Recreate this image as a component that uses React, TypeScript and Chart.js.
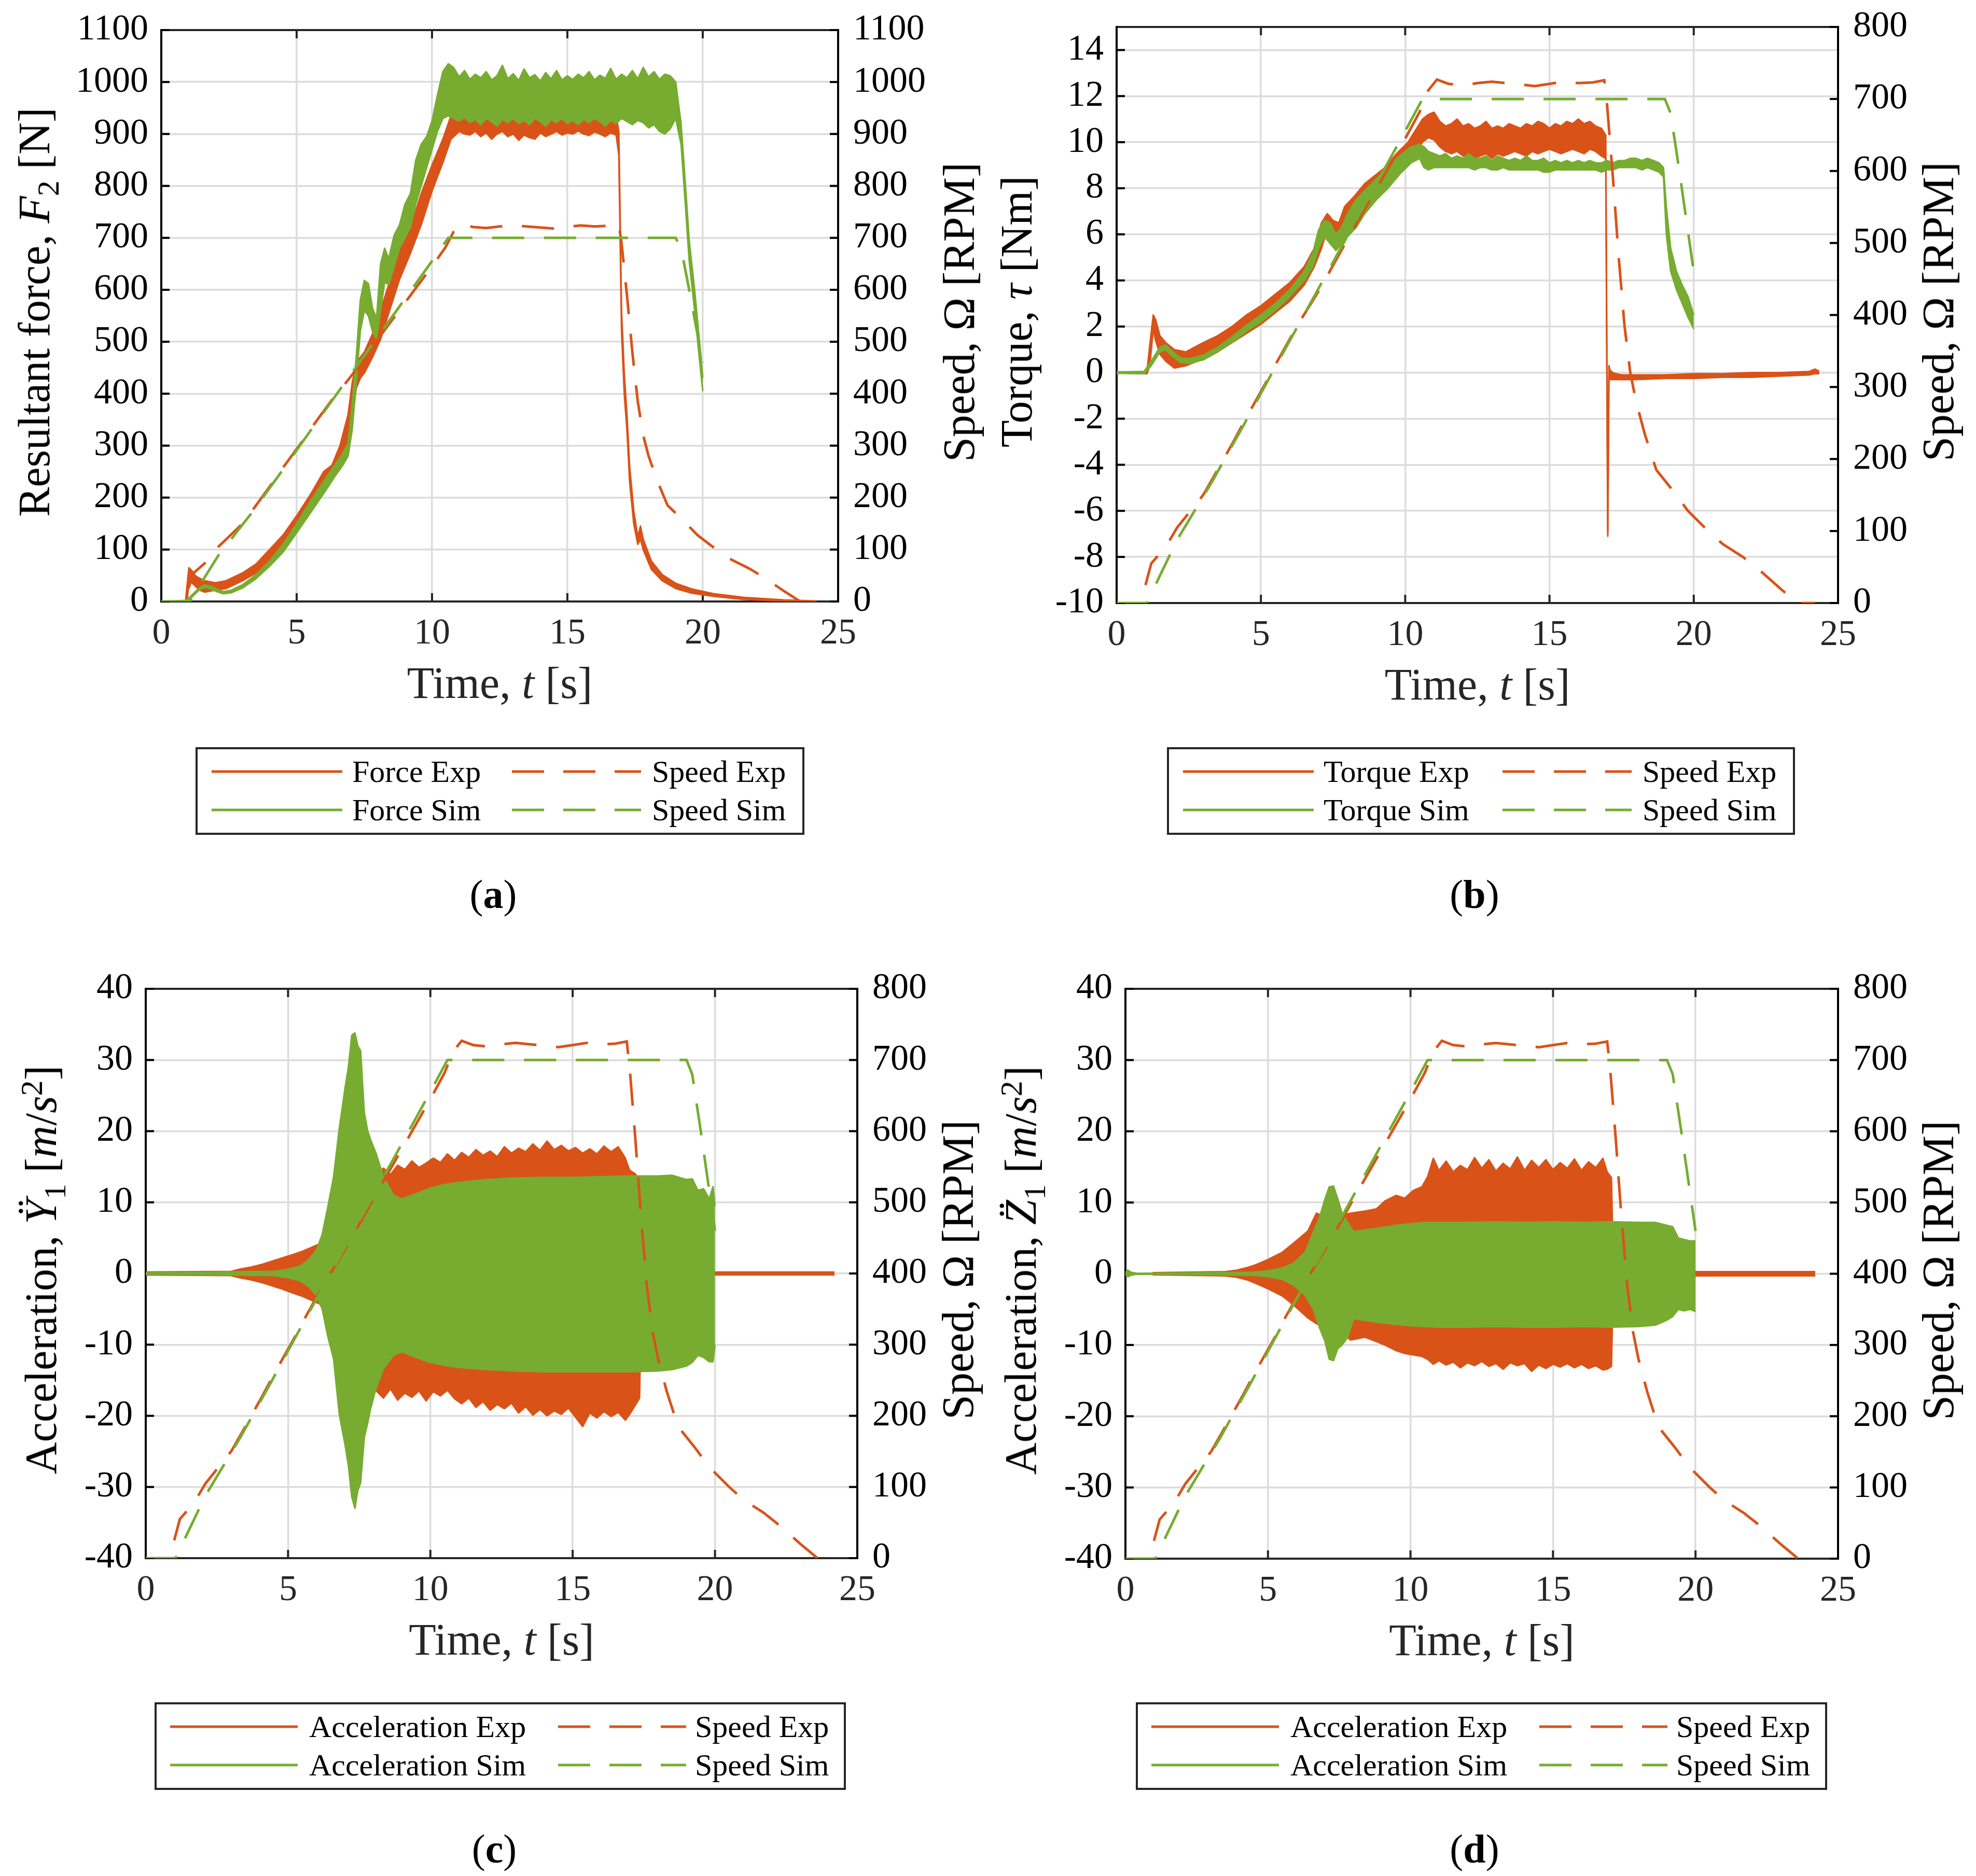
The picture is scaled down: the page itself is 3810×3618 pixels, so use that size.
import React, { useEffect, useRef } from 'react';
import { Chart, registerables } from 'chart.js';

Chart.register(...registerables);

const EXP_COLOR = '#D95319';
const SIM_COLOR = '#77AC30';
const GRID_COLOR = '#dcdcdc';
const AXIS_DARK = '#262626';
const FONT = "'Liberation Serif', 'Times New Roman', 'DejaVu Serif', serif";

// ---------- tick labels ----------
const timeTicks = [0, 5, 10, 15, 20, 25];
const forceTicks = [0, 100, 200, 300, 400, 500, 600, 700, 800, 900, 1000, 1100];
const torqueTicks = [-10, -8, -6, -4, -2, 0, 2, 4, 6, 8, 10, 12, 14];
const speedTicks = [0, 100, 200, 300, 400, 500, 600, 700, 800];
const accTicks = [-40, -30, -20, -10, 0, 10, 20, 30, 40];

// ---------- rotor speed (shared by all panels) ----------
const speedExpTime = [1.0, 1.2, 1.7, 2.1, 3.0, 3.4, 4.1, 4.5, 5.2, 5.6, 6.3, 6.8, 7.1, 8.0, 9.0, 10.0, 10.5, 10.8, 11.1, 11.5, 12.0, 12.5, 13.0, 13.5, 14.0, 14.5, 15.0, 15.5, 16.0, 16.5, 16.9, 17.0, 17.2, 17.4, 17.6, 17.8, 18.0, 18.3, 18.7, 19.3, 19.8, 20.5, 21.0, 21.7, 22.3, 23.0, 23.6, 24.2];
const speedExpRpm = [25, 55, 78, 105, 150, 178, 228, 258, 308, 338, 388, 420, 440, 505, 575, 645, 682, 712, 727, 721, 719, 722, 724, 722, 720, 718, 721, 724, 722, 723, 726, 690, 590, 480, 385, 320, 280, 235, 185, 155, 128, 100, 82, 64, 45, 20, 0, 0];
const speedSimTime = [0, 1.05, 1.5, 2.1, 3.3, 4.4, 5.5, 6.6, 7.7, 8.8, 9.9, 10.6, 19.0, 19.2, 19.5, 20.0];
const speedSimRpm = [0, 0, 38, 88, 168, 247, 328, 408, 488, 568, 648, 700, 700, 680, 600, 460];

// ---------- (a) resultant force: upper / lower edge of the noisy trace ----------
const forceExpTime = [0, 0.9, 0.95, 1.02, 1.08, 1.15, 1.25, 1.4, 1.6, 1.8, 2.0, 2.4, 3.0, 3.5, 4.0, 4.5, 5.0, 5.5, 6.0, 6.3, 6.6, 6.9, 7.05, 7.2, 7.35, 7.5, 7.8, 8.1, 8.4, 8.8, 9.2, 9.6, 10.0, 10.4, 10.7,
  11.0, 11.2, 11.4, 11.6, 11.8, 12.0, 12.2, 12.4, 12.6, 12.8, 13.0, 13.2, 13.4, 13.6, 13.8, 14.0, 14.2, 14.4, 14.6, 14.8, 15.0, 15.2, 15.4, 15.6, 15.8, 16.0, 16.2, 16.4, 16.6, 16.8,
  16.9, 17.0, 17.1, 17.2, 17.3, 17.45, 17.6, 17.7, 17.8, 18.1, 18.5, 19.0, 19.6, 20.4, 21.5, 23.0, 24.2];
const forceExpHigh = [0, 2, 30, 65, 62, 58, 50, 45, 40, 38, 36, 40, 55, 72, 100, 128, 165, 205, 250, 262, 300, 360, 420, 460, 470, 480, 515, 560, 610, 680, 720, 785, 840, 890, 935,
  950, 940, 945, 935, 948, 940, 945, 938, 942, 936, 945, 940, 935, 944, 938, 945, 940, 936, 942, 937, 945, 940, 938, 945, 940, 936, 944, 938, 942, 935,
  905, 560, 440, 360, 260, 175, 125, 145, 120, 78, 52, 35, 24, 15, 8, 3, 1];
const forceExpLow = [0, 0, 0, 35, 40, 35, 30, 22, 18, 20, 22, 25, 40, 55, 80, 108, 140, 178, 215, 235, 255, 300, 350, 410, 430, 440, 470, 505, 555, 620, 670, 725, 790, 845, 890,
  905, 900, 898, 905, 895, 902, 890, 900, 905, 895, 900, 888, 898, 893, 890, 902, 895, 900, 905, 898, 902, 900, 906, 900, 897, 904, 900, 895, 902, 898,
  860, 520, 400, 330, 230, 150, 110, 120, 100, 62, 40, 25, 16, 10, 4, 1, 0];

const forceSimTime = [0, 0.85, 1.0, 1.2, 1.4, 1.6, 1.8, 2.0, 2.3, 2.6, 3.0, 3.5, 4.0, 4.5, 5.0, 5.5, 6.0, 6.4, 6.7, 6.9, 7.05, 7.2, 7.35, 7.5, 7.65, 7.8, 7.95, 8.1, 8.25, 8.4, 8.6, 8.8, 9.0, 9.2, 9.4, 9.6, 9.8, 10.0, 10.2, 10.4, 10.6,
  10.8, 11.0, 11.2, 11.4, 11.6, 11.8, 12.0, 12.2, 12.4, 12.6, 12.8, 13.0, 13.2, 13.4, 13.6, 13.8, 14.0, 14.2, 14.4, 14.6, 14.8, 15.0, 15.2, 15.4, 15.6, 15.8, 16.0, 16.2, 16.4, 16.6, 16.8, 17.0, 17.2, 17.4, 17.6, 17.8, 18.0, 18.2, 18.4, 18.6, 18.8,
  19.0, 19.2, 19.35, 19.5, 19.7, 19.9, 20.0];
const forceSimHigh = [1, 1, 6, 16, 26, 32, 30, 25, 19, 22, 32, 52, 78, 110, 150, 192, 232, 262, 285, 305, 380, 470, 580, 618, 612, 565, 545, 650, 680, 660, 705, 725, 765, 785, 850, 880, 895, 925, 975, 1020, 1035,
  1028, 1010, 1022, 1005, 1015, 1008, 1020, 1004, 1012, 1032, 1006, 1016, 1003, 1025, 1008, 1014, 1002, 1018, 1006, 1022, 1004, 1012, 1005, 1015, 1008, 1020, 1004, 1013, 1007, 1026, 1005, 1015, 1008, 1022, 1006, 1028, 1010, 1020, 1005, 1015, 1012,
  1000, 920, 810, 695, 600, 490, 430];
const forceSimLow = [0, 0, 2, 12, 22, 27, 25, 20, 15, 17, 26, 44, 68, 95, 132, 170, 208, 240, 262, 280, 330, 420, 520, 560, 550, 520, 505, 560, 615, 610, 645, 680, 700, 720, 765, 800, 835, 870, 905, 930, 935,
  930, 925, 932, 922, 928, 918, 930, 924, 915, 928, 922, 930, 920, 926, 918, 930, 924, 915, 928, 922, 930, 920, 926, 918, 928, 922, 930, 924, 915, 926, 920, 930, 924, 918, 926, 922, 912, 918, 905, 900, 910,
  930, 880, 770, 655, 560, 455, 405];

// ---------- (b) torque ----------
const torqueExpTime = [0, 1.05, 1.15, 1.27, 1.35, 1.5, 1.7, 2.0, 2.4, 3.0, 3.5, 4.0, 4.5, 5.0, 5.5, 6.0, 6.5, 6.85, 7.1, 7.3, 7.5, 7.7, 7.9, 8.2, 8.6, 9.0, 9.3, 9.7, 10.1, 10.4, 10.6, 10.8, 11.0,
  11.2, 11.4, 11.6, 11.8, 12.0, 12.2, 12.4, 12.6, 12.8, 13.0, 13.2, 13.4, 13.6, 13.8, 14.0, 14.2, 14.4, 14.6, 14.8, 15.0, 15.2, 15.4, 15.6, 15.8, 16.0, 16.2, 16.4, 16.6, 16.8,
  16.95, 17.02, 17.06, 17.1, 17.2, 17.3, 17.5, 18.0, 19.0, 20.0, 21.0, 22.0, 23.0, 24.0, 24.2, 24.35];
const torqueExpHigh = [0, 0.05, 1.2, 2.5, 2.3, 1.6, 1.3, 1.0, 0.9, 1.3, 1.6, 2.0, 2.5, 2.9, 3.4, 3.9, 4.6, 5.4, 6.5, 6.9, 6.6, 6.5, 7.2, 7.6, 8.2, 8.6, 8.9, 9.5, 10.0, 10.6, 11.0, 11.2, 11.3,
  10.9, 10.7, 10.8, 11.0, 10.7, 10.8, 10.6, 10.7, 10.9, 10.6, 10.7, 10.6, 10.8, 10.7, 10.6, 10.8, 10.7, 10.9, 10.8, 10.6, 10.8, 10.7, 10.9, 10.8, 11.0, 10.8, 10.9, 10.7, 10.6,
  10.3, -6.9, 0.3, 0.1, 0.0, -0.05, -0.1, -0.1, -0.1, -0.05, -0.05, 0.0, 0.0, 0.05, 0.15, 0.05];
const torqueExpLow = [0, -0.05, 0.3, 1.9, 1.4, 0.8, 0.5, 0.2, 0.3, 0.6, 0.9, 1.3, 1.7, 2.1, 2.6, 3.1, 3.8, 4.6, 5.4, 6.2, 5.8, 5.5, 6.0, 6.8, 7.3, 7.8, 8.1, 8.6, 9.1, 9.6, 10.0, 10.2, 10.1,
  9.8, 9.6, 9.5, 9.6, 9.4, 9.5, 9.3, 9.4, 9.5, 9.3, 9.5, 9.4, 9.5, 9.6, 9.5, 9.4, 9.6, 9.5, 9.6, 9.7, 9.6, 9.5, 9.6, 9.7, 9.6, 9.5, 9.7, 9.6, 9.4,
  9.3, -7.1, -0.2, -0.3, -0.3, -0.3, -0.3, -0.3, -0.25, -0.25, -0.2, -0.2, -0.15, -0.1, -0.05, -0.05];

const torqueSimTime = [0, 0.95, 1.2, 1.5, 1.7, 1.9, 2.2, 2.5, 3.0, 3.5, 4.0, 4.5, 5.0, 5.5, 6.0, 6.5, 6.8, 7.0, 7.2, 7.4, 7.6, 7.8, 8.0, 8.3, 8.6, 9.0, 9.4, 9.8, 10.2, 10.5, 10.65,
  10.8, 11.0, 11.2, 11.4, 11.6, 11.8, 12.0, 12.2, 12.4, 12.6, 12.8, 13.0, 13.2, 13.4, 13.6, 13.8, 14.0, 14.2, 14.4, 14.6, 14.8, 15.0, 15.2, 15.4, 15.6, 15.8, 16.0, 16.2, 16.4, 16.6, 16.8, 17.0, 17.2, 17.4, 17.6, 17.8, 18.0, 18.2, 18.4, 18.6, 18.8,
  18.95, 19.05, 19.2, 19.4, 19.6, 19.8, 20.0];
const torqueSimHigh = [0.03, 0.05, 0.5, 1.1, 1.2, 0.95, 0.65, 0.6, 0.75, 1.1, 1.55, 2.05, 2.5, 3.0, 3.6, 4.4, 5.2, 6.2, 6.6, 6.5, 6.0, 6.3, 6.9, 7.5, 7.9, 8.4, 8.9, 9.4, 9.8, 9.9, 9.8,
  9.6, 9.5, 9.4, 9.5, 9.3, 9.4, 9.3, 9.5, 9.3, 9.3, 9.4, 9.2, 9.4, 9.3, 9.2, 9.3, 9.2, 9.4, 9.2, 9.2, 9.3, 9.1, 9.2, 9.1, 9.2, 9.1, 9.2, 9.1, 9.2, 9.1, 9.1, 9.2, 9.1, 9.2, 9.2, 9.3, 9.3, 9.2, 9.3, 9.2, 9.1,
  8.9, 7.2, 5.4, 4.4, 3.8, 3.3, 2.5];
const torqueSimLow = [-0.03, -0.05, 0.3, 0.9, 1.0, 0.75, 0.45, 0.4, 0.55, 0.9, 1.3, 1.8, 2.2, 2.7, 3.3, 4.0, 4.6, 5.4, 5.9, 5.6, 5.3, 5.6, 5.9, 6.3, 6.9, 7.5, 8.0, 8.6, 9.1, 9.3, 8.9,
  8.8, 8.9, 8.9, 8.9, 8.9, 8.9, 8.9, 8.9, 8.8, 8.9, 8.9, 8.8, 8.8, 8.9, 8.8, 8.8, 8.8, 8.8, 8.8, 8.8, 8.7, 8.7, 8.8, 8.8, 8.8, 8.8, 8.8, 8.8, 8.8, 8.8, 8.7, 8.8, 8.8, 8.9, 8.9, 8.9, 8.9, 8.8, 8.9, 8.8, 8.7,
  8.5, 6.0, 4.4, 3.6, 3.0, 2.4, 1.9];

// ---------- (c) lateral acceleration Y1: envelope of the vibration ----------
const accYExpTime = [0, 3.0, 3.3, 3.7, 4.1, 4.5, 4.8, 5.2, 5.5, 5.9, 6.3, 6.7, 7.1, 7.5, 7.8, 7.88, 7.95,
  8.1, 8.35, 8.6, 8.85, 9.1, 9.35, 9.6, 9.85, 10.1, 10.35, 10.6, 10.85, 11.1, 11.35, 11.6, 11.85, 12.1, 12.35, 12.6, 12.85, 13.1, 13.35, 13.6, 13.85, 14.1, 14.35, 14.6, 14.85, 15.1, 15.35, 15.6, 15.85, 16.1, 16.35, 16.6, 16.85,
  17.0, 17.2, 17.35, 17.42, 20.0, 24.2];
const accYExpHigh = [0.2, 0.3, 0.6, 0.9, 1.3, 1.8, 2.2, 2.7, 3.1, 3.8, 4.5, 5.5, 6.5, 8, 10, 16, 13,
  13.5, 14.8, 13.9, 15.2, 14.6, 15.8, 14.9, 15.5, 16.2, 15.6, 16.8, 15.9, 17.0, 16.3, 17.4, 16.6, 17.2, 16.4, 17.8, 16.9, 17.6, 17.1, 18.2, 17.3, 18.6, 17.4, 18.0, 17.2, 17.7, 16.9, 17.5, 16.8, 17.9, 17.1, 17.8, 16.2,
  14.5, 14.0, 13.0, 0.3, 0.2, 0.2];
const accYExpLow = [-0.2, -0.3, -0.6, -0.9, -1.3, -1.8, -2.2, -2.8, -3.2, -3.9, -4.6, -5.8, -7, -9, -12, -19, -16,
  -16.5, -17.5, -16.2, -17.8, -16.8, -17.4, -16.5, -17.9, -16.6, -17.2, -16.4, -17.6, -18.3, -17.5, -18.8, -18.0, -19.2, -18.4, -19.0, -18.2, -19.6, -18.7, -19.9, -19.1, -20.0, -19.3, -19.8, -18.9, -20.2, -21.5, -19.6, -20.3, -19.4, -20.1, -19.5, -20.6,
  -19.8, -18.5, -17.5, -0.3, -0.2, -0.2];

const accYSimTime = [0, 4.5, 5.0, 5.4, 5.7, 6.0, 6.2, 6.4, 6.6, 6.8, 7.0, 7.12, 7.24, 7.35, 7.45, 7.55, 7.68, 7.8, 7.9, 8.1, 8.35, 8.7, 9.0, 9.5, 10.0, 10.5, 11.0, 12.0, 13.0, 14.0, 15.0, 16.0, 17.0, 18.0, 18.5, 19.0, 19.2, 19.4, 19.6, 19.8, 19.93, 20.0];
const accYSimHigh = [0.1, 0.3, 0.6, 1.0, 1.8, 3.3, 5.5, 9.4, 13.6, 20.4, 26, 29, 33.5, 33.8, 32, 31.3, 22.6, 20, 18.8, 16.8, 13.6, 11, 10.5, 11.2, 12.0, 12.5, 12.8, 13.2, 13.4, 13.5, 13.5, 13.6, 13.7, 13.7, 13.8, 13.2, 13.3, 11.7, 11.9, 10.5, 12.2, 9.5];
const accYSimLow = [-0.1, -0.3, -0.6, -1.0, -1.7, -3.1, -5.0, -8.9, -12.0, -19.8, -24, -27, -31.4, -33, -30.5, -29.4, -23, -21, -19, -16, -13.4, -11.5, -11, -11.8, -12.5, -12.9, -13.2, -13.5, -13.7, -13.8, -13.8, -13.8, -13.8, -13.7, -13.5, -13.0, -12.5, -11.5, -11.8, -12.4, -12.4, -10.0];

// ---------- (d) vertical acceleration Z1 ----------
const accZExpTime = [0.95, 3.5, 3.9, 4.3, 4.6, 5.0, 5.5, 5.9, 6.4, 6.7, 7.0, 7.5, 7.9, 8.4, 8.8, 9.1, 9.5, 9.8, 10.1, 10.4, 10.6, 10.8,
  11.0, 11.25, 11.5, 11.75, 12.0, 12.25, 12.5, 12.75, 13.0, 13.25, 13.5, 13.75, 14.0, 14.25, 14.5, 14.75, 15.0, 15.25, 15.5, 15.75, 16.0, 16.25, 16.5, 16.75,
  16.9, 17.05, 17.12, 20.0, 24.2];
const accZExpHigh = [0.15, 0.3, 0.5, 0.9, 1.3, 2.0, 3.0, 4.3, 6.0, 8.5, 8.0, 8.2, 8.5, 8.8, 9.1, 10.2, 11.0, 10.6, 11.7, 12.2, 13.6, 16.2,
  14.5, 15.8, 14.3, 15.2, 14.6, 16.3, 14.8, 16.0, 14.4, 15.5, 14.7, 16.4, 14.5, 15.9, 14.9, 16.0, 14.6, 15.6, 14.8, 16.1, 14.5, 15.7, 14.9, 16.2,
  14.3, 13.5, 0.3, 0.3, 0.3];
const accZExpLow = [-0.15, -0.3, -0.5, -0.9, -1.4, -2.1, -3.1, -4.4, -6.2, -7.0, -7.5, -8.0, -9.3, -8.9, -9.5, -10.0, -10.8, -11.2, -11.4, -11.6, -12.0, -12.7,
  -12.2, -12.8, -12.4, -13.2, -12.5, -12.9, -12.3, -13.0, -12.6, -13.4, -12.5, -12.9, -12.6, -13.7, -12.8, -13.3, -12.7, -13.1, -12.6, -13.2, -12.7, -13.3, -12.9, -13.5,
  -13.4, -13.0, -0.3, -0.3, -0.3];

const accZSimTime = [0, 0.08, 0.2, 0.4, 4.5, 5.0, 5.5, 5.9, 6.3, 6.6, 6.8, 7.0, 7.15, 7.3, 7.45, 7.6, 7.8, 8.0, 8.5, 9.0, 9.5, 10.0, 10.5, 11.0, 12.0, 13.0, 14.0, 15.0, 16.0, 17.0, 18.0, 18.6, 19.0, 19.2, 19.4, 19.6, 19.8, 20.0];
const accZSimHigh = [0.2, 0.5, 0.2, 0.05, 0.2, 0.4, 0.8, 1.5, 3.0, 5.9, 7.8, 10.5, 12.2, 12.3, 10.5, 8.5, 7.2, 5.9, 6.2, 6.5, 6.8, 7.0, 7.2, 7.2, 7.2, 7.3, 7.2, 7.3, 7.2, 7.3, 7.2, 7.2, 6.8, 6.6, 5.0, 4.8, 4.6, 4.6];
const accZSimLow = [-0.2, -0.4, -0.2, -0.05, -0.2, -0.4, -0.8, -1.6, -3.0, -5.0, -7.5, -9.5, -12.0, -12.2, -10.5, -10.0, -8.9, -6.3, -6.6, -6.9, -7.1, -7.3, -7.4, -7.5, -7.5, -7.4, -7.5, -7.5, -7.4, -7.5, -7.4, -7.2, -6.5, -6.0, -5.0, -5.2, -5.0, -5.3];

// ---------- layout ----------
type Band = { t: number[]; hi: number[]; lo: number[] };

interface PanelSpec {
  key: string;
  left: number; top: number; right: number; bottom: number;
  yMin: number; yMax: number; yTicks: number[];
  y2Min: number; y2Max: number; y2Ticks: number[];
  exp: Band; sim: Band;
  yLeftBase: number; yRightBase: number;
  yTitle: React.ReactNode;
  legend: { left: number; top: number; width: number; s1: number[]; t1: number; s2: number[]; t2: number; labels: string[] };
  caption: { x: number; y: number; letter: string };
}

const M_L = 200, M_R = 200, M_T = 50, M_B = 110;

const toPoints = (t: number[], v: number[]) => t.map((x, i) => ({ x, y: v[i] }));
const tickList = (vals: number[]) => vals.map((value) => ({ value }));
const label = (v: any) => String(v);

const sub = (s: string) => <span style={{ fontSize: '0.7em', position: 'relative', top: '0.3em' }}>{s}</span>;
const sup = (s: string) => <span style={{ fontSize: '0.7em', position: 'relative', top: '-0.45em' }}>{s}</span>;
const speedTitle = <>Speed, Ω [RPM]</>;

const panels: PanelSpec[] = [
  {
    key: 'a', left: 311, top: 44, right: 1616, bottom: 1160,
    yMin: 0, yMax: 1100, yTicks: forceTicks, y2Min: 0, y2Max: 1100, y2Ticks: forceTicks,
    exp: { t: forceExpTime, hi: forceExpHigh, lo: forceExpLow },
    sim: { t: forceSimTime, hi: forceSimHigh, lo: forceSimLow },
    yLeftBase: 95, yRightBase: 1878,
    yTitle: <>Resultant force, <i>F</i>{sub('2')} [N]</>,
    legend: { left: 377, top: 1441, width: 1174, s1: [27, 279], t1: 298, s2: [606, 855], t2: 876, labels: ['Force Exp', 'Speed Exp', 'Force Sim', 'Speed Sim'] },
    caption: { x: 951, y: 1717, letter: 'a' },
  },
  {
    key: 'b', left: 2153, top: 38, right: 3544, bottom: 1163,
    yMin: -10, yMax: 15, yTicks: torqueTicks, y2Min: 0, y2Max: 800, y2Ticks: speedTicks,
    exp: { t: torqueExpTime, hi: torqueExpHigh, lo: torqueExpLow },
    sim: { t: torqueSimTime, hi: torqueSimHigh, lo: torqueSimLow },
    yLeftBase: 1989, yRightBase: 3766,
    yTitle: <>Torque, <i>τ</i> [Nm]</>,
    legend: { left: 2250, top: 1441, width: 1211, s1: [27, 279], t1: 298, s2: [643, 892], t2: 913, labels: ['Torque Exp', 'Speed Exp', 'Torque Sim', 'Speed Sim'] },
    caption: { x: 2843, y: 1717, letter: 'b' },
  },
  {
    key: 'c', left: 281, top: 1893, right: 1653, bottom: 3005,
    yMin: -40, yMax: 40, yTicks: accTicks, y2Min: 0, y2Max: 800, y2Ticks: speedTicks,
    exp: { t: accYExpTime, hi: accYExpHigh, lo: accYExpLow },
    sim: { t: accYSimTime, hi: accYSimHigh, lo: accYSimLow },
    yLeftBase: 108, yRightBase: 1876,
    yTitle: <>Acceleration, <i>Ÿ</i>{sub('1')} [<i>m</i>/<i>s</i>{sup('2')}]</>,
    legend: { left: 298, top: 3283, width: 1333, s1: [26, 272], t1: 294, s2: [774, 1021], t2: 1038, labels: ['Acceleration Exp', 'Speed Exp', 'Acceleration Sim', 'Speed Sim'] },
    caption: { x: 953, y: 3558, letter: 'c' },
  },
  {
    key: 'd', left: 2170, top: 1893, right: 3544, bottom: 3006,
    yMin: -40, yMax: 40, yTicks: accTicks, y2Min: 0, y2Max: 800, y2Ticks: speedTicks,
    exp: { t: accZExpTime, hi: accZExpHigh, lo: accZExpLow },
    sim: { t: accZSimTime, hi: accZSimHigh, lo: accZSimLow },
    yLeftBase: 1997, yRightBase: 3766,
    yTitle: <>Acceleration, <i>Z&#776;</i>{sub('1')} [<i>m</i>/<i>s</i>{sup('2')}]</>,
    legend: { left: 2190, top: 3283, width: 1333, s1: [26, 272], t1: 294, s2: [774, 1021], t2: 1038, labels: ['Acceleration Exp', 'Speed Exp', 'Acceleration Sim', 'Speed Sim'] },
    caption: { x: 2843, y: 3558, letter: 'd' },
  },
];

// MATLAB style box with inward ticks on all four sides, drawn under the data
const framePlugin = {
  id: 'matlabFrame',
  beforeDatasetsDraw(chart: any) {
    const { ctx, chartArea } = chart;
    const { left, right, top, bottom } = chartArea;
    const { x, y, y2 } = chart.scales;
    const len = 16;
    const seg = (x1: number, y1: number, x2: number, y2p: number) => {
      ctx.beginPath();
      ctx.moveTo(x1, y1);
      ctx.lineTo(x2, y2p);
      ctx.stroke();
    };
    ctx.save();
    ctx.lineWidth = 4;
    ctx.strokeStyle = AXIS_DARK;
    x.ticks.forEach((tk: any) => {
      const px = x.getPixelForValue(tk.value);
      seg(px, bottom, px, bottom - len);
      seg(px, top, px, top + len);
    });
    seg(left - 2, top, right + 2, top);
    seg(left - 2, bottom, right + 2, bottom);
    ctx.strokeStyle = '#000';
    y.ticks.forEach((tk: any) => {
      const py = y.getPixelForValue(tk.value);
      seg(left, py, left + len, py);
    });
    y2.ticks.forEach((tk: any) => {
      const py = y2.getPixelForValue(tk.value);
      seg(right, py, right - len, py);
    });
    seg(left, top - 2, left, bottom + 2);
    seg(right, top - 2, right, bottom + 2);
    ctx.restore();
  },
};

function PanelChart({ spec }: { spec: PanelSpec }) {
  const ref = useRef<HTMLCanvasElement>(null);
  const w = spec.right - spec.left + M_L + M_R;
  const h = spec.bottom - spec.top + M_T + M_B;

  useEffect(() => {
    if (!ref.current) return;
    const tickFont = { family: FONT, size: 70, lineHeight: 1 };
    const band = (b: Band, color: string, order: number, name: string) => [
      { label: name + ' upper', data: toPoints(b.t, b.hi), yAxisID: 'y', borderColor: color, borderWidth: 3, borderJoinStyle: 'round', pointRadius: 0, fill: false, order },
      { label: name, data: toPoints(b.t, b.lo), yAxisID: 'y', borderColor: color, backgroundColor: color, borderWidth: 3, borderJoinStyle: 'round', pointRadius: 0, fill: '-1', order },
    ];
    const chart = new Chart(ref.current, {
      type: 'line',
      data: {
        datasets: [
          { label: 'Speed Sim', data: toPoints(speedSimTime, speedSimRpm), yAxisID: 'y2', borderColor: SIM_COLOR, borderWidth: 5, borderDash: [62, 38], pointRadius: 0, fill: false, order: 0 },
          { label: 'Speed Exp', data: toPoints(speedExpTime, speedExpRpm), yAxisID: 'y2', borderColor: EXP_COLOR, borderWidth: 5, borderDash: [62, 38], pointRadius: 0, fill: false, order: 1 },
          ...band(spec.sim, SIM_COLOR, 2, 'Sim'),
          ...band(spec.exp, EXP_COLOR, 3, 'Exp'),
        ] as any,
      },
      options: {
        animation: false,
        responsive: false,
        devicePixelRatio: 1,
        layout: { padding: { top: M_T, left: 0, right: 0, bottom: 0 } },
        plugins: { legend: { display: false }, tooltip: { enabled: false } },
        elements: { line: { tension: 0 }, point: { radius: 0 } },
        scales: {
          x: {
            type: 'linear', min: 0, max: 25,
            afterBuildTicks: (s: any) => { s.ticks = tickList(timeTicks); },
            afterFit: (s: any) => { s.height = M_B; },
            ticks: { font: tickFont, color: AXIS_DARK, padding: 28, autoSkip: false, maxRotation: 0, callback: label },
            grid: { color: GRID_COLOR, lineWidth: 3.5, drawTicks: false },
            border: { display: false },
          },
          y: {
            type: 'linear', position: 'left', min: spec.yMin, max: spec.yMax,
            afterBuildTicks: (s: any) => { s.ticks = tickList(spec.yTicks); },
            afterFit: (s: any) => { s.width = M_L; },
            ticks: { font: tickFont, color: '#000', padding: 25, autoSkip: false, callback: label },
            grid: { color: GRID_COLOR, lineWidth: 3.5, drawTicks: false },
            border: { display: false },
          },
          y2: {
            type: 'linear', position: 'right', min: spec.y2Min, max: spec.y2Max,
            afterBuildTicks: (s: any) => { s.ticks = tickList(spec.y2Ticks); },
            afterFit: (s: any) => { s.width = M_R; },
            ticks: { font: tickFont, color: '#000', padding: 29, autoSkip: false, callback: label },
            grid: { display: false, drawTicks: false },
            border: { display: false },
          },
        },
      } as any,
      plugins: [framePlugin],
    });
    return () => chart.destroy();
  }, [spec]);

  return (
    <canvas
      ref={ref}
      width={w}
      height={h}
      style={{ position: 'absolute', left: spec.left - M_L, top: spec.top - M_T, width: w, height: h }}
    />
  );
}

const TITLE_SIZE = 86;
const BASE = 0.8375; // baseline position inside a line-height:1 box (Liberation Serif)

function YTitle({ baseX, cy, children }: { baseX: number; cy: number; children: React.ReactNode }) {
  return (
    <div
      style={{
        position: 'absolute', left: baseX - (BASE - 0.5) * TITLE_SIZE, top: cy,
        transform: 'translate(-50%, -50%) rotate(-90deg)',
        fontFamily: FONT, fontSize: TITLE_SIZE, lineHeight: 1, whiteSpace: 'nowrap', color: '#000',
      }}
    >
      {children}
    </div>
  );
}

function Sample({ x1, x2, y, color, dashed }: { x1: number; x2: number; y: number; color: string; dashed: boolean }) {
  return (
    <svg width={x2 - x1} height={10} style={{ position: 'absolute', left: x1, top: y - 5 }}>
      <line x1={0} y1={5} x2={x2 - x1} y2={5} stroke={color} strokeWidth={5} strokeDasharray={dashed ? '62 37' : undefined} />
    </svg>
  );
}

function Legend({ spec }: { spec: PanelSpec }) {
  const lg = spec.legend;
  const rows = [43, 117];
  const text = (x: number, y: number, s: string) => (
    <div style={{ position: 'absolute', left: x, top: y, transform: 'translateY(-50%)', fontFamily: FONT, fontSize: 60, lineHeight: 1, whiteSpace: 'nowrap', color: '#000' }}>{s}</div>
  );
  return (
    <div style={{ position: 'absolute', left: lg.left, top: lg.top, width: lg.width, height: 169, border: `4px solid ${AXIS_DARK}`, boxSizing: 'border-box', background: '#fff' }}>
      <Sample x1={lg.s1[0]} x2={lg.s1[1]} y={rows[0]} color={EXP_COLOR} dashed={false} />
      {text(lg.t1, rows[0], lg.labels[0])}
      <Sample x1={lg.s2[0]} x2={lg.s2[1]} y={rows[0]} color={EXP_COLOR} dashed />
      {text(lg.t2, rows[0], lg.labels[1])}
      <Sample x1={lg.s1[0]} x2={lg.s1[1]} y={rows[1]} color={SIM_COLOR} dashed={false} />
      {text(lg.t1, rows[1], lg.labels[2])}
      <Sample x1={lg.s2[0]} x2={lg.s2[1]} y={rows[1]} color={SIM_COLOR} dashed />
      {text(lg.t2, rows[1], lg.labels[3])}
    </div>
  );
}

function Panel({ spec }: { spec: PanelSpec }) {
  const cx = (spec.left + spec.right) / 2;
  const cy = (spec.top + spec.bottom) / 2;
  const xBase = spec.bottom + 186;
  return (
    <>
      <PanelChart spec={spec} />
      <div
        style={{
          position: 'absolute', left: cx, top: xBase - BASE * TITLE_SIZE, transform: 'translateX(-50%)',
          fontFamily: FONT, fontSize: TITLE_SIZE, lineHeight: 1, whiteSpace: 'nowrap', color: AXIS_DARK,
        }}
      >
        Time, <i>t</i> [s]
      </div>
      <YTitle baseX={spec.yLeftBase} cy={cy}>{spec.yTitle}</YTitle>
      <YTitle baseX={spec.yRightBase} cy={cy}>{speedTitle}</YTitle>
      <Legend spec={spec} />
      <div
        style={{
          position: 'absolute', left: spec.caption.x, top: spec.caption.y + 8, transform: 'translate(-50%, -50%)',
          fontFamily: FONT, fontSize: 78, lineHeight: 1, whiteSpace: 'nowrap', color: '#000',
        }}
      >
        (<b>{spec.caption.letter}</b>)
      </div>
    </>
  );
}

export default function App() {
  return (
    <div
      style={{
        position: 'absolute', left: 0, top: 0, width: 3810, height: 3618,
        background: '#fff', overflow: 'hidden', fontFamily: FONT,
      }}
    >
      {panels.map((p) => (
        <Panel key={p.key} spec={p} />
      ))}
    </div>
  );
}
